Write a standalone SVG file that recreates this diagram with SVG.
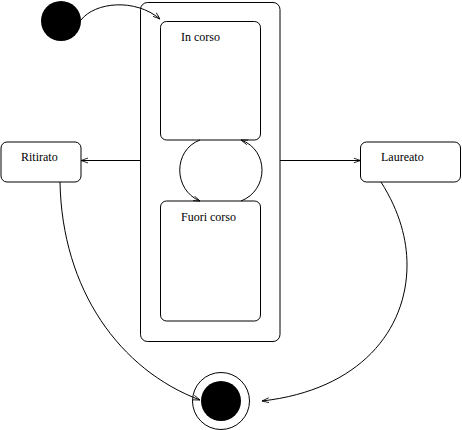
<svg xmlns="http://www.w3.org/2000/svg" width="462" height="430" viewBox="0 0 462 430">
<style>
.box{fill:none;stroke:#000;stroke-width:1}
.edge{fill:none;stroke:#000;stroke-width:1}
.lbl{font-family:"Liberation Serif","DejaVu Serif",serif;font-size:12px;fill:#000}
</style>
<defs>
<marker id="arr" viewBox="0 0 10 10" refX="10" refY="5" markerWidth="7" markerHeight="7" markerUnits="userSpaceOnUse" orient="auto">
<path d="M0,1.5 L10,5 L0,8.5" fill="none" stroke="#000" stroke-width="1.2"/>
</marker>
</defs>
<rect width="462" height="430" fill="#fff"/>
<g id="initial"><circle cx="61" cy="21" r="20" fill="#000"/></g>
<g id="composite"><rect class="box" x="140.5" y="2.5" width="139.5" height="339" rx="7"/></g>
<g id="in-corso"><rect class="box" x="160.5" y="21.5" width="100" height="118.5" rx="6"/><text class="lbl" x="181" y="41">In corso</text></g>
<g id="fuori-corso"><rect class="box" x="160.5" y="201" width="100" height="120" rx="6"/><text class="lbl" x="181" y="221">Fuori corso</text></g>
<g id="ritirato"><rect class="box" x="1" y="142" width="80" height="40" rx="6"/><text class="lbl" x="21" y="161">Ritirato</text></g>
<g id="laureato"><rect class="box" x="360.5" y="142" width="100" height="40" rx="6"/><text class="lbl" x="381" y="161">Laureato</text></g>
<g id="final"><circle cx="221" cy="401" r="28.5" fill="none" stroke="#000" stroke-width="1"/><circle cx="221" cy="401" r="20" fill="#000"/></g>
<g id="connectors">
<path class="edge" d="M81,20 C95,2 135,-2 160,19" marker-end="url(#arr)"/>
<path class="edge" d="M140.5,160.5 L81,160.5" marker-end="url(#arr)"/>
<path class="edge" d="M280,160.5 L360.5,160.5" marker-end="url(#arr)"/>
<path class="edge" d="M200,140 C173,150 173,190 200,201" marker-end="url(#arr)"/>
<path class="edge" d="M241,201 C269,190 269,150 241,140" marker-end="url(#arr)"/>
<path class="edge" d="M60,182 C62,290 120,370 200,400" marker-end="url(#arr)"/>
<path class="edge" d="M381,182 C400,212 407,240 407,265 C407,330 360,390 262,401" marker-end="url(#arr)"/>
</g>
</svg>
